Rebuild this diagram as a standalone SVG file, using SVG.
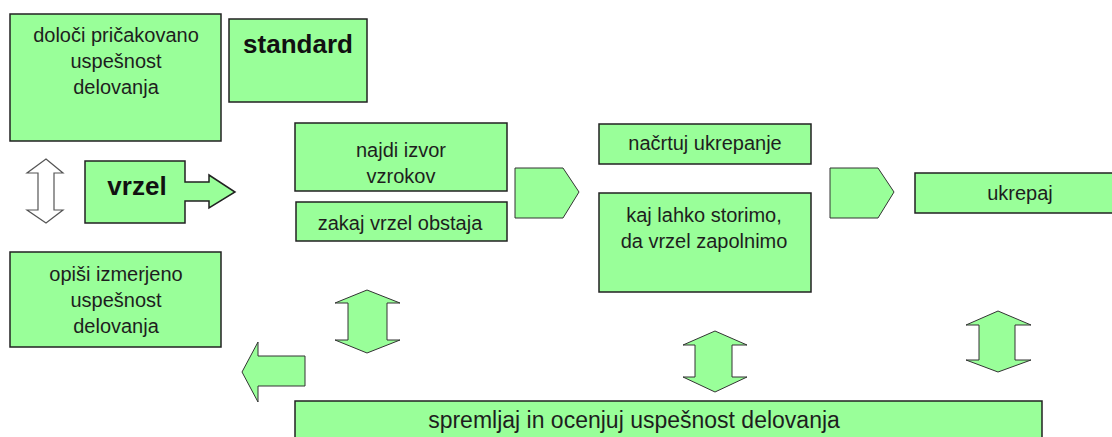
<svg xmlns="http://www.w3.org/2000/svg" width="1112" height="437" viewBox="0 0 1112 437">
<style>
.box{fill:#99ff99;stroke:#222;stroke-width:1.5}
.arr{fill:#99ff99;stroke:#333;stroke-width:1}
.warr{fill:#fff;stroke:#555;stroke-width:1.2}
.t{font-family:"Liberation Sans",Arial,sans-serif;font-size:20px;fill:#1e1e1e;text-anchor:middle}
.b{font-family:"Liberation Sans",Arial,sans-serif;font-size:26px;font-weight:bold;fill:#111;text-anchor:middle}
</style>
<rect width="1112" height="437" fill="#fff"/>
<g id="n-pricakovano">
<rect class="box" x="10" y="14" width="211" height="127"/>
<text class="t" x="116" y="42">določi pričakovano</text>
<text class="t" x="116" y="68">uspešnost</text>
<text class="t" x="116" y="94">delovanja</text>
</g>
<g id="n-standard">
<rect class="box" x="229" y="19" width="138" height="83"/>
<text class="b" x="298" y="53">standard</text>
</g>
<g id="n-vrzel">
<path class="box" d="M85,161 H185 V182 H209 V175 L235,192 L209,208 V201 H185 V223 H85 Z"/>
<text class="b" x="137" y="195">vrzel</text>
</g>
<g id="n-izmerjeno">
<rect class="box" x="10" y="252" width="211" height="95"/>
<text class="t" x="116" y="281">opiši izmerjeno</text>
<text class="t" x="116" y="307">uspešnost</text>
<text class="t" x="116" y="333">delovanja</text>
</g>
<g id="n-najdi">
<rect class="box" x="295" y="123" width="212" height="68"/>
<text class="t" x="401" y="157">najdi izvor</text>
<text class="t" x="401" y="183">vzrokov</text>
</g>
<g id="n-zakaj">
<rect class="box" x="296" y="202" width="211" height="39"/>
<text class="t" x="400" y="230">zakaj vrzel obstaja</text>
</g>
<g id="n-nacrtuj">
<rect class="box" x="599" y="124" width="212" height="40"/>
<text class="t" x="705" y="150">načrtuj ukrepanje</text>
</g>
<g id="n-kaj">
<rect class="box" x="599" y="193" width="212" height="99"/>
<text class="t" x="704" y="222">kaj lahko storimo,</text>
<text class="t" x="704" y="248">da vrzel zapolnimo</text>
</g>
<g id="n-ukrepaj">
<rect class="box" x="915" y="173" width="210" height="40"/>
<text class="t" x="1020" y="200">ukrepaj</text>
</g>
<g id="n-spremljaj">
<rect class="box" x="295" y="401" width="747" height="50"/>
<text class="t" x="634" y="428" style="font-size:23px">spremljaj in ocenjuj uspešnost delovanja</text>
</g>
<g id="connectors">
<path class="warr" d="M46,159 L63,173 H54 V210 H63 L46,223 L27,210 H38 V173 H27 Z"/>
<path class="arr" d="M515,168 H563 L579,192 L563,218 H515 Z"/>
<path class="arr" d="M830,168 H878 L894,192 L878,218 H830 Z"/>
<path class="arr" d="M305,356 H258 V342 L242,372 L258,402 V386 H305 Z"/>
<path class="arr" d="M367,290 L400,303 H387 V340 H400 L367,353 L335,340 H348 V303 H335 Z"/>
<path class="arr" d="M715,331 L747,345 H732 V377 H747 L715,392 L683,377 H695 V345 H683 Z"/>
<path class="arr" d="M998,311 L1031,325 H1015 V360 H1031 L998,372 L966,360 H979 V325 H966 Z"/>
</g>
</svg>
